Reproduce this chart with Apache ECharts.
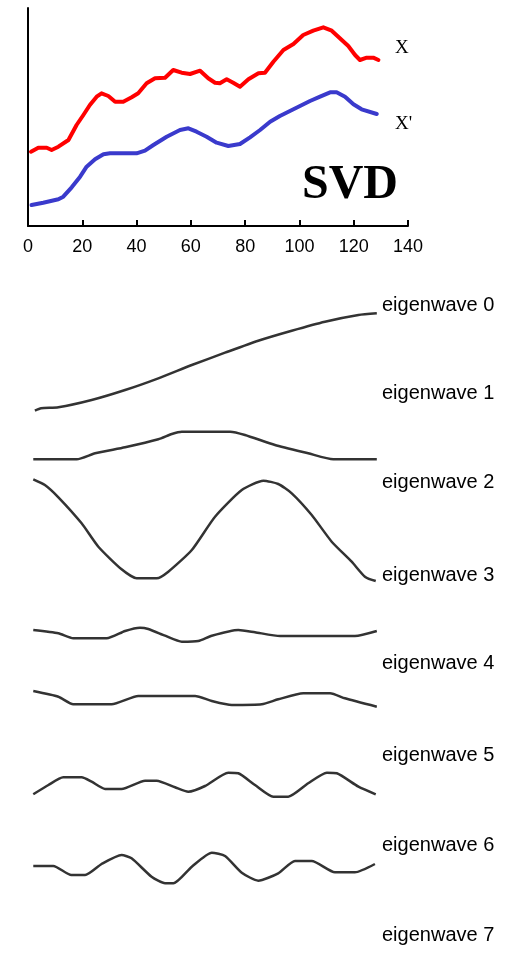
<!DOCTYPE html>
<html>
<head>
<meta charset="utf-8">
<script src="https://cdn.jsdelivr.net/npm/echarts@6/dist/echarts.min.js"></script>
<style>
  html, body { margin: 0; padding: 0; background: #fff; }
  #chart { width: 513px; height: 976px; }
</style>
</head>
<body>
<div id="chart"></div>
<script>
// top panel: signal X and its reconstruction X' (sample index, height)
const signalX = [
    [1.1, 74.3], [3.8, 78.3], [6.9, 78.3], [8.7, 76], [11.2, 79.3], [14.9, 86],
    [17.9, 101], [20.4, 111], [22.8, 121], [25.3, 129.3], [27.1, 132.7], [29.6, 130],
    [32.1, 124.3], [35.1, 124.3], [38.2, 128.7], [40.6, 132.7], [43.7, 142.7], [46.8, 147.7],
    [50.5, 148.3], [53.5, 156], [56.6, 153.3], [59.7, 152], [63.4, 155.3], [66.4, 147.7],
    [68.9, 143.3], [70.7, 142.7], [73.2, 146.7], [75.6, 143.3], [78.1, 139.3], [81.2, 146.7],
    [84.9, 152.7], [87.3, 153.3], [90.4, 164.3], [94.1, 176], [97.8, 182], [101.4, 191],
    [105.1, 195.3], [108.8, 198.7], [111.9, 195.3], [114.9, 187.7], [118.0, 180], [120.5, 171],
    [122.3, 166], [124.8, 168.3], [127.2, 168.3], [129.1, 166]
];
const signalXPrime = [
    [1.3, 21], [5.6, 23.3], [11.2, 26.7], [13.0, 29.3], [16.1, 38.7], [19.2, 49.3],
    [21.6, 59.3], [24.7, 66.7], [27.8, 71.7], [30.2, 72.7], [40.0, 72.7], [43.1, 75.3],
    [46.2, 81], [51.1, 89.3], [56.0, 96], [59.1, 97.7], [62.1, 94.3], [65.8, 89.3],
    [69.5, 83.3], [73.8, 80], [78.1, 82], [81.8, 88.7], [85.5, 96], [89.2, 104.3],
    [92.8, 110], [96.5, 115], [100.2, 120], [103.9, 125], [107.6, 129.3], [111.3, 133.7],
    [113.7, 133.7], [116.8, 129.3], [119.9, 121.7], [122.9, 116.7], [128.5, 112]
];
const xTickStep = 20;
const xMax = 140;

// eigenwaves (sample index, amplitude)
const wave0 = [[0.7, -48.7], [3, -46.3], [9.4, -45.3], [21.7, -38], [34.1, -28], [46.4, -16.3],
    [58.8, -3], [71.1, 9.3], [83.4, 21.3], [95.8, 31.3], [108.1, 40.3], [120.5, 47], [127.3, 48.7]];
const wave1 = [[0.1, -14.3], [16.2, -14.3], [23, -8.3], [34.1, -2.3], [46.4, 5.7], [51.4, 11],
    [55.1, 13.3], [73, 13.3], [78.5, 10], [89.6, 0], [101.9, -8.3], [111.2, -14.3], [127.3, -14.3]];
const wave2 = [[0.1, 50.7], [4.4, 45], [9.4, 32.7], [18, 6.7], [24.2, -16.7], [32.8, -39.3],
    [38.4, -48.3], [45.8, -48.3], [50.1, -41.7], [58.8, -20], [67.4, 13.3], [77.3, 40],
    [85.3, 49.3], [90.8, 46], [95.8, 36.7], [103.2, 15], [110.6, -11.7], [118, -31.7],
    [122.9, -46.7], [126.9, -51]];
const wave3 = [[0.1, 5], [9.4, 1.7], [14.9, -3.3], [27.3, -3.3], [34.1, 4], [39.6, 7.3], [42.7, 6],
    [48.9, -0.7], [55.1, -6.7], [61.2, -6], [66.2, -0.7], [76, 5], [82.2, 2.7], [91.5, -1],
    [119.2, -1], [127.3, 4]];
const wave4 = [[0.1, 7], [9.4, 1.3], [14.9, -6.3], [29.1, -6.3], [39, 2], [60, 2], [66.2, -3],
    [73.6, -7], [84.7, -6.3], [90.8, -1.3], [100.1, 4.7], [110, 4.7], [115.5, -0.3], [127.3, -8.7]];
const wave5 = [[0.1, -10.3], [5.7, -1], [11.2, 6.7], [18, 6.7], [21.7, 2.3], [26.7, -5], [32.8, -5],
    [41.5, 3.3], [45.8, 3.3], [52.6, -3.3], [57.5, -7.7], [63.7, -2], [72.3, 11.3], [76, 10.7],
    [82.2, -1], [89, -12.7], [94.5, -12.7], [101.9, 0.7], [108.8, 11.3], [112.5, 10.7],
    [120.5, -2.7], [126.9, -10.3]];
const wave6 = [[0.1, 2], [7.5, 2], [14.2, -7], [19.3, -7], [25.4, 4], [32.8, 13], [36.5, 9.7],
    [43.9, -8.7], [48.9, -15.3], [52, -15.3], [58.8, 1.3], [66.2, 15.3], [71.1, 12], [77.3, -4.7],
    [83.4, -12.7], [90.8, -5.3], [97, 7], [103.2, 7], [111.8, -4.3], [119.2, -4.3], [126.6, 4]];
const waves = [wave0, wave1, wave2, wave3, wave4, wave5, wave6];
const waveLabels = ['eigenwave 0', 'eigenwave 1', 'eigenwave 2', 'eigenwave 3',
    'eigenwave 4', 'eigenwave 5', 'eigenwave 6', 'eigenwave 7'];

// layout
const waveCenters = [362, 445, 530, 635, 698, 784, 868];
const labelCenters = [305, 393.5, 482.5, 575, 663.5, 755, 845, 935];
const waveHalf = 56;

const chart = echarts.init(document.getElementById('chart'), null, { renderer: 'canvas' });

const grids = [{ left: 28, top: 8, width: 380, height: 218 }];
const xAxes = [{
    gridIndex: 0, type: 'value', min: 0, max: xMax, interval: xTickStep,
    axisLine: { lineStyle: { color: '#000', width: 2 } },
    axisTick: { inside: true, length: 6, lineStyle: { color: '#000', width: 2 } },
    axisLabel: { color: '#000', fontFamily: 'Liberation Sans', fontSize: 18, margin: 12 },
    splitLine: { show: false }
}];
const yAxes = [{
    gridIndex: 0, type: 'value', min: 0, max: 218,
    axisLine: { show: true, lineStyle: { color: '#000', width: 2 } },
    axisTick: { show: false }, axisLabel: { show: false }, splitLine: { show: false }
}];
const series = [
    { type: 'line', xAxisIndex: 0, yAxisIndex: 0, data: signalX, symbol: 'none',
      lineStyle: { color: '#ff0000', width: 4, cap: 'round', join: 'round' } },
    { type: 'line', xAxisIndex: 0, yAxisIndex: 0, data: signalXPrime, symbol: 'none',
      lineStyle: { color: '#3a3acc', width: 4, cap: 'round', join: 'round' } }
];

waves.forEach((w, i) => {
    const gi = i + 1;
    grids.push({ left: 33, width: 343, top: waveCenters[i] - waveHalf, height: waveHalf * 2 });
    xAxes.push({ gridIndex: gi, type: 'value', min: 0, max: 127, show: false });
    yAxes.push({ gridIndex: gi, type: 'value', min: -waveHalf, max: waveHalf, show: false });
    series.push({
        type: 'line', xAxisIndex: gi, yAxisIndex: gi, data: w, symbol: 'none',
        smooth: 0.2,
        lineStyle: { color: '#333333', width: 2.5, join: 'round' }
    });
});

const texts = [
    { type: 'text', left: 395, top: 39, style: { text: 'X', font: '19px "Liberation Serif"', fill: '#000' } },
    { type: 'text', left: 395, top: 115, style: { text: "X'", font: '19px "Liberation Serif"', fill: '#000' } },
    { type: 'text', left: 302, top: 162, style: { text: 'SVD', font: 'bold 48px "Liberation Serif"', fill: '#000' } }
];
waveLabels.forEach((lab, i) => {
    texts.push({
        type: 'text', x: 382, y: labelCenters[i],
        style: { text: lab, font: '20px "Liberation Sans"', fill: '#000', verticalAlign: 'middle' }
    });
});

chart.setOption({
    animation: false,
    backgroundColor: '#fff',
    grid: grids,
    xAxis: xAxes,
    yAxis: yAxes,
    series: series,
    graphic: texts
});
</script>
</body>
</html>
